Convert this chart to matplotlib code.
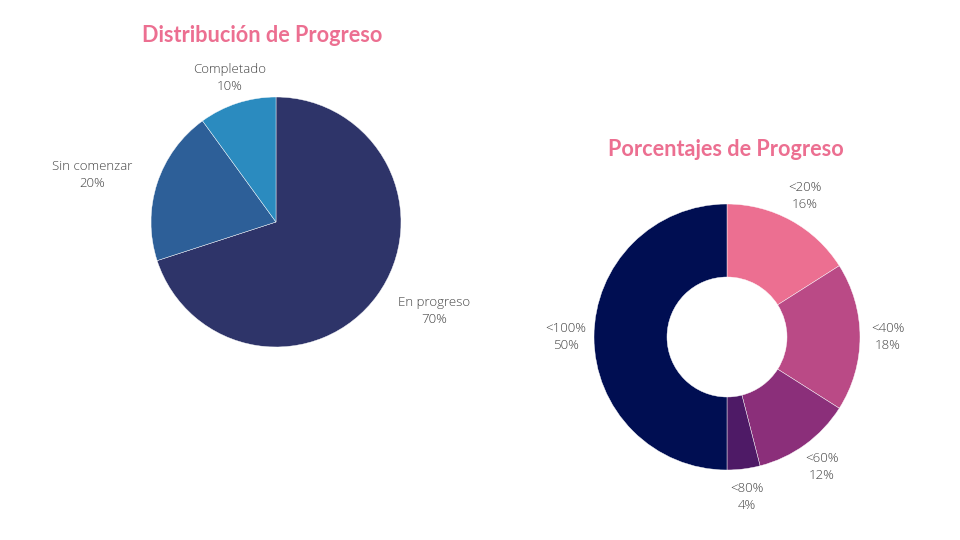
import numpy as np
import matplotlib
matplotlib.use("Agg")
import matplotlib.pyplot as plt

# Data
dist_labels = ["En progreso", "Sin comenzar", "Completado"]
dist_values = [70, 20, 10]
dist_colors = ["#2E3469", "#2D5F98", "#2B8BBF"]

pct_labels = ["<20%", "<40%", "<60%", "<80%", "<100%"]
pct_values = [16, 18, 12, 4, 50]
pct_colors = ["#EC6F91", "#BA4A86", "#8B2F7A", "#4E1A66", "#000E52"]

title_color = "#EC6F91"
label_color = "#444444"

fig = plt.figure(figsize=(9.6, 5.4), dpi=100)
ax = fig.add_axes([0, 0, 1, 1])
ax.set_xlim(0, 960)
ax.set_ylim(0, 540)
ax.set_aspect("equal")
ax.axis("off")


def draw_pie(values, labels, colors, center, radius, width=None, side_align=False, ldist=1.21):
    wp = dict(edgecolor="white", linewidth=0.3)
    if width is not None:
        wp["width"] = width
    wedges, _ = ax.pie(values, colors=colors, startangle=90, counterclock=False,
                       center=center, radius=radius, wedgeprops=wp, frame=True)
    total = sum(values)
    for w, lab, v in zip(wedges, labels, values):
        ang = np.deg2rad((w.theta1 + w.theta2) / 2)
        c, s = np.cos(ang), np.sin(ang)
        x = center[0] + radius * ldist * c
        y = center[1] + radius * ldist * s
        ha = "center"
        if side_align and abs(c) > 0.5:
            ha = "left" if c > 0 else "right"
        ax.text(x, y, f"{lab}\n{round(100 * v / total)}%", ha=ha, va="center",
                fontsize=9.5, color=label_color, family="Open Sans",
                fontweight="light", linespacing=1.4, multialignment="center")


draw_pie(dist_values, dist_labels, dist_colors, center=(276, 318), radius=125,
         side_align=True)
draw_pie(pct_values, pct_labels, pct_colors, center=(727, 203), radius=133,
         width=73)

ax.set_xlim(0, 960)
ax.set_ylim(0, 540)
ax.axis("off")

ax.text(262, 505, "Distribución de Progreso", ha="center", va="center",
        fontsize=15.6, fontweight="bold", family="Lato", color=title_color)
ax.text(726, 391, "Porcentajes de Progreso", ha="center", va="center",
        fontsize=15.6, fontweight="bold", family="Lato", color=title_color)

fig.savefig("out.png", dpi=100, facecolor="white")
